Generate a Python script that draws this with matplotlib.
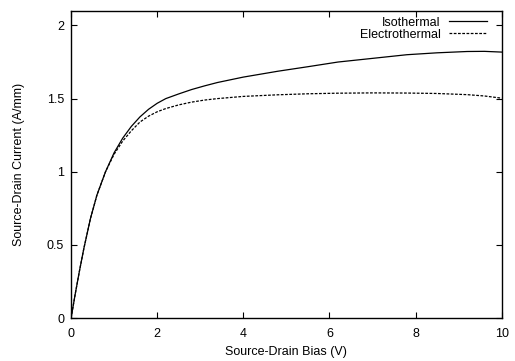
import matplotlib
matplotlib.use('Agg')
import matplotlib.pyplot as plt

# Source-drain bias (V)
bias = [0, 0.1, 0.2, 0.3, 0.45, 0.6, 0.8, 1.0, 1.2, 1.4, 1.6, 1.8, 2.0, 2.2,
        2.5, 2.8, 3.1, 3.4, 4.0, 4.8, 5.5, 6.2, 7.0, 7.8, 8.5, 9.2, 9.6, 10.0]
# Source-drain current (A/mm)
isothermal = [0, 0.17, 0.33, 0.48, 0.68, 0.84, 1.0, 1.13, 1.23, 1.31, 1.375,
              1.427, 1.468, 1.50, 1.532, 1.562, 1.587, 1.61, 1.647, 1.687,
              1.718, 1.75, 1.775, 1.80, 1.813, 1.822, 1.823, 1.818]
electrothermal = [0, 0.17, 0.33, 0.48, 0.68, 0.84, 1.0, 1.12, 1.21, 1.28, 1.34,
                  1.38, 1.41, 1.432, 1.457, 1.476, 1.49, 1.50, 1.515, 1.526,
                  1.533, 1.537, 1.539, 1.538, 1.535, 1.527, 1.518, 1.503]

xticks = [0, 2, 4, 6, 8, 10]
yticks = [0, 0.5, 1, 1.5, 2]
ytick_labels = ['0', '0.5', '1', '1.5', '2']

plt.rcParams['font.family'] = ['Liberation Sans', 'DejaVu Sans']
fs = 9

fig = plt.figure(figsize=(5.15, 3.61), dpi=100)
ax = fig.add_axes([0.138, 0.119, 0.836, 0.851])

ax.plot(bias, isothermal, color='black', linewidth=0.9, label='Isothermal')
ax.plot(bias, electrothermal, color='black', linewidth=0.9,
        dashes=(2.2, 1.2), label='Electrothermal')

ax.set_xlim(0, 10)
ax.set_ylim(0, 2.1)
ax.set_xticks(xticks)
ax.set_xticklabels([str(t) for t in xticks])
ax.set_yticks(yticks)
ax.set_yticklabels(ytick_labels)
ax.tick_params(direction='in', length=4, width=0.8, top=True, right=True,
               labelsize=fs)
ax.tick_params(axis='x', pad=7)
ax.tick_params(axis='y', pad=5)
for s in ax.spines.values():
    s.set_linewidth(1.0)

ax.set_xlabel('Source-Drain Bias (V)', fontsize=fs, labelpad=4.5)
ax.set_ylabel('Source-Drain Current (A/mm)', fontsize=fs, labelpad=15.5)

ax.legend(loc='upper right', bbox_to_anchor=(0.966, 0.981), frameon=False,
          markerfirst=False, handlelength=3.0, handletextpad=0.7,
          labelspacing=0.0, fontsize=fs, borderaxespad=0, borderpad=0)

fig.savefig('out.png', dpi=100)
